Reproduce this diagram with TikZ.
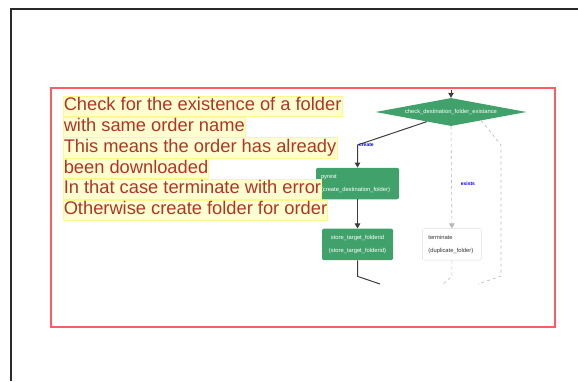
\documentclass[tikz,border=0pt]{standalone}
\usepackage{fontspec}
\setmainfont{Liberation Sans}
\usetikzlibrary{arrows.meta, calc, positioning, shapes.geometric}

\definecolor{taskgreen}{RGB}{64,162,106}
\definecolor{notered}{RGB}{178,52,40}
\definecolor{hlfill}{RGB}{255,255,210}
\definecolor{hlline}{RGB}{255,248,140}
\definecolor{boxred}{RGB}{250,95,95}
\definecolor{flowgray}{RGB}{60,60,60}

\begin{document}
\begin{tikzpicture}[
    x=1pt, y=-1pt,
    >={Triangle[length=5pt,width=5.5pt]},
    node distance=29pt,
    note/.style={
        fill=hlfill,
        draw=hlline,
        line width=0.5pt,
        text=notered,
        font=\fontsize{18.3}{20}\selectfont,
        inner xsep=0.5pt,
        inner ysep=1.5pt,
        text height=13.2pt,
        text depth=4pt
    },
    task/.style={
        rounded corners=2pt,
        fill=taskgreen,
        text=white,
        font=\fontsize{5.8}{13}\selectfont,
        inner xsep=5pt,
        minimum height=31.5pt
    },
    decision/.style={
        diamond,
        aspect=5.4,
        fill=taskgreen,
        text=white,
        inner sep=0pt,
        minimum width=151pt,
        minimum height=28pt,
        font=\fontsize{5.8}{7}\selectfont
    },
    flow/.style={->, draw=flowgray, line width=1pt},
    alt/.style={->, dashed, draw=gray!55, line width=0.6pt},
    elabel/.style={text=blue, inner sep=1pt, font=\fontsize{5}{6}\selectfont\bfseries}
]
\useasboundingbox (0,0) rectangle (578,381);

% page frame and marked region
\draw[flowgray!70!black, line width=2pt] (11,381) -- (11,9) -- (578,9);
\draw[boxred, line width=1.4pt] (51,88) rectangle (555,327);

% flow
\node[decision] (check) at (451,112) {check\_destination\_folder\_existance};
\node[task, text width=73pt, align=left] (pyrest) at (357.5,183.5) {pyrest\\(create\_destination\_folder)};
\node[task, text width=61pt, align=center, below=of pyrest] (store) {store\_target\_folderid\\(store\_target\_folderid)};
\node[task, fill=white, draw=gray!25, text=black!80, text width=47pt, inner xsep=6pt,
      align=left, right=of store] (term) {terminate\\(duplicate\_folder)};

\coordinate (top) at (451,90);
\coordinate (bend) at (357.5,145);
\coordinate (side1) at (501,145);
\coordinate (side2) at (501,276);
\coordinate (end1) at (380,284);
\coordinate (end2) at (443,284);
\coordinate (end3) at (478,284);

\draw[flow] (top) -- (check.north);
\draw[flow] ($(check.west)!0.68!(check.south)$) -- (bend) node[elabel, right] {create} -- (pyrest.north);
\draw[flow] (pyrest) -- (store);
\draw[alt] (check.south) -- node[elabel, pos=0.56, right, xshift=8pt] {exists} (term.north);
\draw[dashed, draw=gray!55, line width=0.6pt] ($(check.south)!0.4!(check.east)$) -- (side1) -- (side2) -- (end3);
\draw[dashed, draw=gray!55, line width=0.6pt] (term.south) -- ++(0,16) -- (end2);
\draw[flowgray, line width=1pt] (store.south) -- ++(0,16) -- (end1);

% note lines, on top of the flow
\node[note, anchor=north west] (n1) at (63,96) {Check for the existence of a folder};
\node[note, below right=0pt and 0pt of n1.south west] (n2) {with same order name};
\node[note, below right=0pt and 0pt of n2.south west] (n3) {This means the order has already};
\node[note, below right=0pt and 0pt of n3.south west] (n4) {been downloaded};
\node[note, below right=0pt and 0pt of n4.south west] (n5) {In that case terminate with error};
\node[note, below right=0pt and 0pt of n5.south west] (n6) {Otherwise create folder for order};
\end{tikzpicture}
\end{document}
